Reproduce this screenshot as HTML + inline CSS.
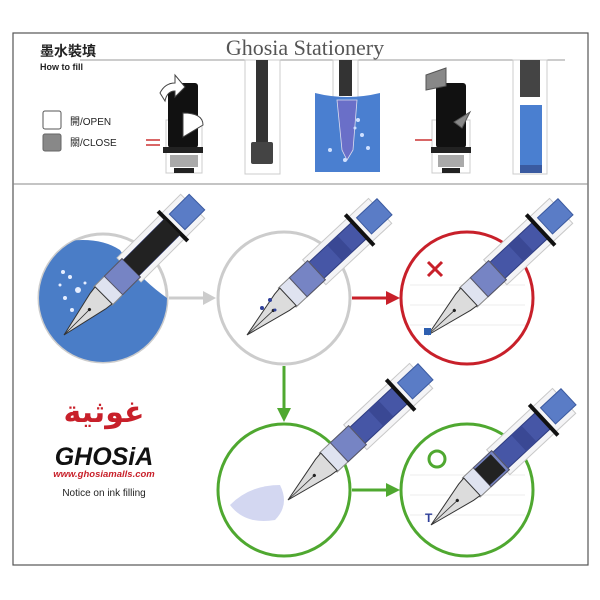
<!DOCTYPE html>
<html><head><meta charset="utf-8"><style>
html,body{margin:0;padding:0;background:#fff;}
svg{display:block}
text{font-family:"Liberation Sans","Noto Sans CJK TC",sans-serif;}
</style></head><body>
<svg width="600" height="600" viewBox="0 0 600 600" xmlns="http://www.w3.org/2000/svg">
<defs>
<g id="pen">
  <rect x="92" y="-17" width="90" height="34" fill="#f4f4f6" stroke="#c8c8c8" stroke-width="1"/>
  <rect x="160" y="-11" width="28" height="22" fill="#5a7cc6" stroke="#3b5aa0"/>
  <rect x="95" y="-11" width="58" height="22" fill="#4656a6" stroke="#2f3d80"/>
  <rect x="120" y="-11" width="14" height="22" fill="#3a4894"/>
  <line x1="154" y1="-21" x2="154" y2="21" stroke="#111" stroke-width="4"/>
  <rect x="55" y="-13" width="40" height="26" fill="#dfe3f0" stroke="#888"/>
  <rect x="70" y="-13" width="25" height="26" fill="#7684c4" stroke="#556"/>
  <polygon points="0,0 48,-11 56,-12 56,12 48,11" fill="#dcdcdc" stroke="#333" stroke-width="1"/>
  <line x1="2" y1="0" x2="36" y2="0" stroke="#333" stroke-width="0.8"/>
  <circle cx="36" cy="0" r="1.6" fill="#222"/>
</g>
<clipPath id="c1"><circle cx="103" cy="298" r="64"/></clipPath>
</defs>
<rect x="13" y="33" width="575" height="532" fill="#fff" stroke="#555" stroke-width="1.2"/>
<line x1="13" y1="184" x2="588" y2="184" stroke="#888" stroke-width="1"/>
<line x1="80" y1="60" x2="565" y2="60" stroke="#999" stroke-width="1"/>
<text x="305" y="55" text-anchor="middle" font-family="Liberation Serif,serif" font-size="22" fill="#555" style="font-family:'Liberation Serif',serif">Ghosia Stationery</text>
<text x="40" y="56" font-size="14" font-weight="bold" fill="#222">墨水裝填</text>
<text x="40" y="70" font-size="9" font-weight="bold" fill="#222">How to fill</text>
<rect x="43" y="111" width="18" height="18" rx="2" fill="#fff" stroke="#555"/>
<rect x="43" y="134" width="18" height="17" rx="2" fill="#888" stroke="#666"/>
<text x="70" y="125" font-size="10" fill="#222">開/OPEN</text>
<text x="70" y="146" font-size="10" fill="#222">關/CLOSE</text>
<!-- top pen 1 -->
<rect x="166" y="120" width="36" height="53" fill="#fff" stroke="#ccc"/>
<rect x="168" y="83" width="30" height="65" fill="#111" rx="3"/>
<rect x="163" y="147" width="40" height="6" fill="#222"/>
<rect x="170" y="155" width="28" height="12" fill="#aaa"/>
<rect x="174" y="168" width="20" height="5" fill="#222"/>
<path d="M160 93 q5-10 15-10 l0-8 10 12 -10 10 0-6 q-8 0-10 10z" fill="#fff" stroke="#444"/>
<path d="M183 113 q20 0 20 12 l-20 12z" fill="#fff" stroke="#444"/>
<line x1="146" y1="140" x2="160" y2="140" stroke="#c33" stroke-width="1.5"/>
<line x1="146" y1="145" x2="160" y2="145" stroke="#c33" stroke-width="1.5"/>
<!-- top pen 2 -->
<rect x="245" y="60" width="35" height="114" fill="#fff" stroke="#ccc"/>
<rect x="256" y="60" width="12" height="83" fill="#333"/>
<rect x="251" y="142" width="22" height="22" fill="#444" rx="2"/>
<!-- beaker -->
<rect x="333" y="60" width="25" height="40" fill="#fff" stroke="#ccc"/>
<rect x="339" y="60" width="13" height="36" fill="#333"/>
<path d="M315 93 q32 8 65 0 v79 h-65z" fill="#4a7fd0"/>
<path d="M337 100 h20 l-4 50 -6 10 -5-10z" fill="#6a6fc8" stroke="#dde" stroke-width="0.8"/>
<g fill="#cfe0ff"><circle cx="358" cy="120" r="2"/><circle cx="362" cy="135" r="2"/><circle cx="330" cy="150" r="2"/><circle cx="368" cy="148" r="2"/><circle cx="345" cy="160" r="2"/><circle cx="355" cy="128" r="1.5"/></g>
<!-- top pen 4 -->
<rect x="432" y="120" width="38" height="53" fill="#fff" stroke="#ccc"/>
<rect x="436" y="83" width="30" height="65" fill="#111" rx="3"/>
<rect x="431" y="147" width="40" height="6" fill="#222"/>
<rect x="438" y="155" width="26" height="12" fill="#aaa"/>
<rect x="442" y="168" width="18" height="5" fill="#222"/>
<path d="M426 75 l20-7 0 18 -20 4z" fill="#888" stroke="#555"/>
<path d="M470 112 l-16 10 8 6z" fill="#888" stroke="#555"/>
<line x1="415" y1="140" x2="432" y2="140" stroke="#c33" stroke-width="1.5"/>
<!-- top pen 5 -->
<rect x="513" y="60" width="34" height="114" fill="#fff" stroke="#ccc"/>
<rect x="520" y="60" width="20" height="37" fill="#444"/>
<rect x="520" y="105" width="22" height="62" fill="#4a7fd0"/>
<rect x="520" y="165" width="22" height="8" fill="#3a5aa0"/>
<!-- circle1 -->
<circle cx="103" cy="298" r="64" fill="#fff" stroke="#ccc" stroke-width="3"/>
<g clip-path="url(#c1)"><path d="M30 250 q60-20 90 0 q20 30 50 50 v80 h-140z" fill="#4a7dc7"/></g>
<g fill="#e6eeff"><circle cx="63" cy="272" r="2"/><circle cx="70" cy="277" r="2"/><circle cx="78" cy="290" r="3"/><circle cx="65" cy="298" r="2"/><circle cx="72" cy="310" r="2"/><circle cx="85" cy="283" r="1.5"/><circle cx="60" cy="285" r="1.5"/></g>
<g transform="translate(64,335) rotate(-45)"><use href="#pen"/><rect x="95" y="-11" width="58" height="22" fill="#222"/></g>
<!-- circle2 -->
<circle cx="284" cy="298" r="66" fill="#fff" stroke="#ccc" stroke-width="3"/>
<g transform="translate(247,335) rotate(-43)"><use href="#pen"/></g>
<g fill="#2e3f9a"><circle cx="262" cy="308" r="2"/><circle cx="270" cy="300" r="2"/><circle cx="275" cy="310" r="1.5"/></g>
<!-- circle3 -->
<circle cx="467" cy="298" r="66" fill="#fff" stroke="#c8202a" stroke-width="3"/>
<g stroke="#eee"><line x1="410" y1="285" x2="525" y2="285"/><line x1="410" y1="305" x2="525" y2="305"/><line x1="410" y1="325" x2="525" y2="325"/></g>
<g transform="translate(428,335) rotate(-43)"><use href="#pen"/></g>
<rect x="424" y="328" width="7" height="7" fill="#2e5fb0"/>
<path d="M428 262 l14 14 M442 262 l-14 14" stroke="#c8202a" stroke-width="3"/>
<!-- circle4 -->
<circle cx="284" cy="490" r="66" fill="#fff" stroke="#4fa830" stroke-width="3"/>
<path d="M230 505 q20-20 50-20 q10 20-5 35 q-30 5-45-15z" fill="#c8cdee" opacity="0.8"/>
<g transform="translate(288,500) rotate(-43)"><use href="#pen"/></g>
<!-- circle5 -->
<circle cx="467" cy="490" r="66" fill="#fff" stroke="#4fa830" stroke-width="3"/>
<g stroke="#eee"><line x1="410" y1="475" x2="525" y2="475"/><line x1="410" y1="495" x2="525" y2="495"/><line x1="410" y1="515" x2="525" y2="515"/></g>
<g transform="translate(431,525) rotate(-43)"><use href="#pen"/><rect x="70" y="-11" width="22" height="22" fill="#222"/></g>
<circle cx="437" cy="459" r="8" fill="none" stroke="#4fa830" stroke-width="3"/>
<text x="425" y="522" font-size="12" font-weight="bold" fill="#2e3f9a">T</text>
<!-- arrows -->
<line x1="169" y1="298" x2="205" y2="298" stroke="#ccc" stroke-width="3"/>
<polygon points="203,291 216,298 203,305" fill="#ccc"/>
<line x1="352" y1="298" x2="388" y2="298" stroke="#c8202a" stroke-width="3"/>
<polygon points="386,291 400,298 386,305" fill="#c8202a"/>
<line x1="284" y1="366" x2="284" y2="410" stroke="#4fa830" stroke-width="3"/>
<polygon points="277,408 284,422 291,408" fill="#4fa830"/>
<line x1="352" y1="490" x2="388" y2="490" stroke="#4fa830" stroke-width="3"/>
<polygon points="386,483 400,490 386,497" fill="#4fa830"/>
<!-- logo -->
<text x="104" y="422" text-anchor="middle" font-size="30" font-weight="bold" fill="#c8202a" style="font-family:'DejaVu Sans',sans-serif">غوثية</text>
<text x="104" y="465" text-anchor="middle" font-size="25" font-weight="bold" font-style="italic" fill="#111">GHOSiA</text>
<text x="104" y="477" text-anchor="middle" font-size="9.5" font-weight="bold" font-style="italic" fill="#c8202a">www.ghosiamalls.com</text>
<text x="104" y="496" text-anchor="middle" font-size="10" fill="#222">Notice on ink filling</text>
</svg>
</body></html>
